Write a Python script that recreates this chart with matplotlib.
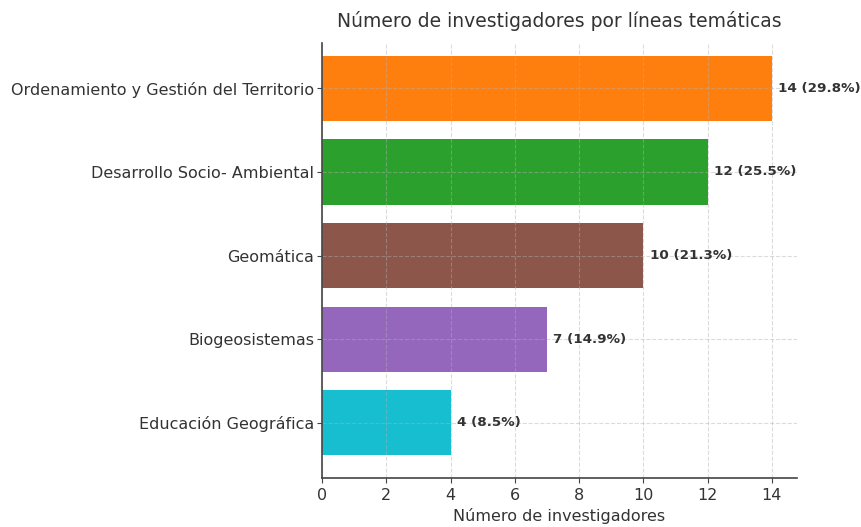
import matplotlib
matplotlib.use("Agg")
import matplotlib.pyplot as plt

lineas = ["Educación Geográfica", "Biogeosistemas", "Geomática",
          "Desarrollo Socio- Ambiental", "Ordenamiento y Gestión del Territorio"]
investigadores = [4, 7, 10, 12, 14]
colores = ["#17becf", "#9467bd", "#8c564b", "#2ca02c", "#ff7f0e"]

plt.rcParams['font.family'] = ['DejaVu Sans']
total = sum(investigadores)

fig, ax = plt.subplots(figsize=(8.62, 5.27), dpi=100)
bars = ax.barh(lineas, investigadores, color=colores, height=0.78)

for b, v in zip(bars, investigadores):
    ax.text(v + 0.2, b.get_y() + b.get_height() / 2,
            f"{v} ({v / total * 100:.1f}%)", va='center', ha='left',
            fontsize=9.7, fontweight='bold', color='#333333')

ax.set_title("Número de investigadores por líneas temáticas", fontsize=13.5,
             color='#333333', pad=12)
ax.set_xlabel("Número de investigadores", fontsize=11.5, color='#333333')
ax.tick_params(labelsize=11.5, labelcolor='#333333', color='#444444')
ax.tick_params(axis='y', pad=2)
ax.grid(True, linestyle='--', alpha=0.45)
ax.set_xlim(0, 14.78)
ax.set_ylim(-0.66, 4.54)
ax.spines['top'].set_visible(False)
ax.spines['right'].set_visible(False)
for s in ['left', 'bottom']:
    ax.spines[s].set_color('#444444')
    ax.spines[s].set_linewidth(1.2)

plt.subplots_adjust(left=0.3735, right=0.9246, top=0.918, bottom=0.093)
plt.savefig("out.png", dpi=100)
